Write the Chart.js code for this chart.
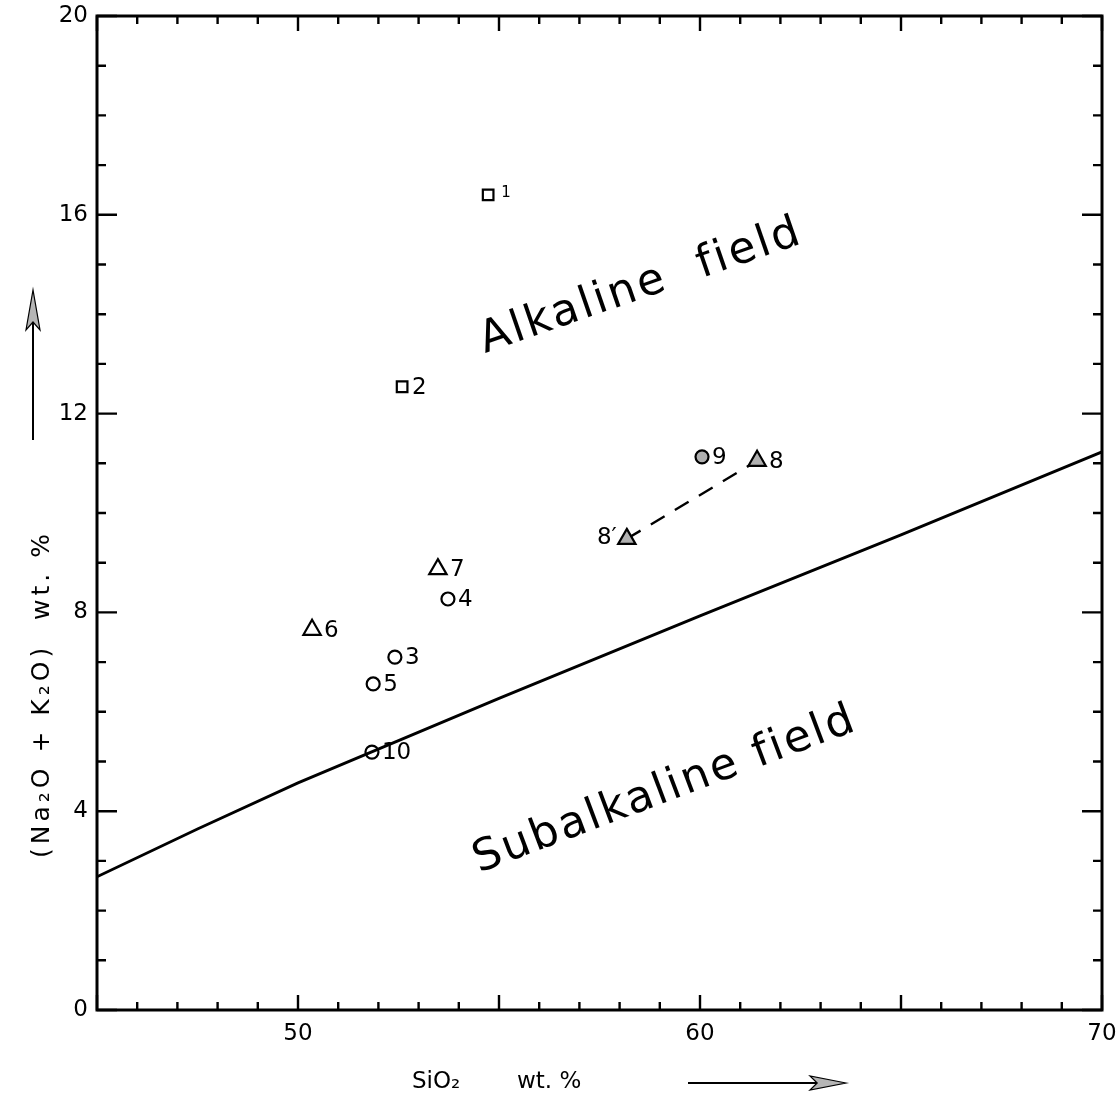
<!DOCTYPE html>
<html>
<head>
<meta charset="utf-8">
<script src="https://cdn.jsdelivr.net/npm/chart.js@4/dist/chart.umd.min.js"></script>
<style>
  body { margin: 0; background: #fff; }
  #wrap { width: 1120px; height: 1102px; }
</style>
</head>
<body>
<div id="wrap"><canvas id="myChart" width="1120" height="1102"></canvas></div>
<script>
// samples
const sampleLabels = ['1', '2', '3', '4', '5', '6', '7', '8', '8′', '9', '10'];
const silica  = [54.73, 52.59, 52.41, 53.73, 51.87, 50.35, 53.48, 61.42, 58.18, 60.05, 51.84];
const alkalis = [16.40, 12.54, 7.10, 8.27, 6.56, 7.65, 8.87, 11.05, 9.48, 11.13, 5.19];
const symbols = ['square', 'square', 'circle', 'circle', 'circle', 'triangle', 'triangle',
                 'triangleFilled', 'triangleFilled', 'circleFilled', 'circle'];

// alkaline / subalkaline boundary
const boundarySiO2 = [45, 47.5, 50, 55, 60, 65, 70];
const boundaryAlk  = [2.68, 3.64, 4.57, 6.27, 7.93, 9.56, 11.23];

// tie line 8' -> 8
const tieSiO2 = [58.18, 61.42];
const tieAlk  = [9.48, 11.05];

const xTickLabels = [50, 60, 70];
const yTickLabels = [0, 4, 8, 12, 16, 20];

const FONT = '"DejaVu Sans", "Liberation Sans", sans-serif';

const symbolStyle = {
  square:         { pointStyle: 'rect',     radius: 7.5, fill: 'rgba(0,0,0,0)' },
  circle:         { pointStyle: 'circle',   radius: 6.5, fill: 'rgba(0,0,0,0)' },
  triangle:       { pointStyle: 'triangle', radius: 10,  fill: 'rgba(0,0,0,0)' },
  triangleFilled: { pointStyle: 'triangle', radius: 10,  fill: '#b0b0b0' },
  circleFilled:   { pointStyle: 'circle',   radius: 6.5, fill: '#b0b0b0' }
};

const markerSets = Object.keys(symbolStyle).map(key => {
  const st = symbolStyle[key];
  const pts = [];
  symbols.forEach((s, i) => { if (s === key) pts.push({ x: silica[i], y: alkalis[i] }); });
  return {
    label: key,
    data: pts,
    pointStyle: st.pointStyle,
    pointRadius: st.radius,
    pointBackgroundColor: st.fill,
    pointBorderColor: '#000',
    pointBorderWidth: 2.2,
    showLine: false,
    order: 1
  };
});

const data = {
  datasets: markerSets.concat([
    {
      label: 'tie',
      data: tieSiO2.map((x, i) => ({ x: x, y: tieAlk[i] })),
      showLine: true,
      borderColor: '#000',
      borderWidth: 2.4,
      borderDash: [16, 12],
      pointRadius: 0,
      order: 2
    },
    {
      label: 'boundary',
      data: boundarySiO2.map((x, i) => ({ x: x, y: boundaryAlk[i] })),
      showLine: true,
      borderColor: '#000',
      borderWidth: 2.8,
      pointRadius: 0,
      order: 2
    }
  ])
};

// draws text stretched to a given width (letter spacing), from a start point along an angle
function spreadText(ctx, text, x, y, angle, width, maxSp) {
  ctx.save();
  ctx.translate(x, y);
  ctx.rotate(angle);
  ctx.letterSpacing = '0px';
  const w = ctx.measureText(text).width;
  const n = [...text].length;
  let sp = n > 1 ? (width - w) / (n - 1) : 0;
  if (maxSp !== undefined && sp > maxSp) sp = maxSp;
  ctx.letterSpacing = sp + 'px';
  ctx.textAlign = 'left';
  ctx.fillText(text, 0, 0);
  ctx.restore();
}

function arrowHead(ctx, tipX, tipY, dir, len, half) {
  // dir: 'right' or 'up'
  ctx.beginPath();
  if (dir === 'right') {
    ctx.moveTo(tipX, tipY);
    ctx.lineTo(tipX - len, tipY - half);
    ctx.lineTo(tipX - len * 0.8, tipY);
    ctx.lineTo(tipX - len, tipY + half);
  } else {
    ctx.moveTo(tipX, tipY);
    ctx.lineTo(tipX - half, tipY + len);
    ctx.lineTo(tipX, tipY + len * 0.8);
    ctx.lineTo(tipX + half, tipY + len);
  }
  ctx.closePath();
  ctx.fillStyle = '#b5b5b5';
  ctx.fill();
  ctx.lineWidth = 1.2;
  ctx.strokeStyle = '#000';
  ctx.stroke();
}

const framePlugin = {
  id: 'frame',
  afterDatasetsDraw(chart) {
    const ctx = chart.ctx;
    const a = chart.chartArea;
    const xs = chart.scales.x, ys = chart.scales.y;
    ctx.save();
    ctx.strokeStyle = '#000';

    // inward ticks on all four sides
    ctx.lineWidth = 2.4;
    xs.ticks.forEach(t => {
      const px = xs.getPixelForValue(t.value);
      const len = t.value % 5 === 0 ? 15 : 8;
      ctx.beginPath();
      ctx.moveTo(px, a.bottom); ctx.lineTo(px, a.bottom - len);
      ctx.moveTo(px, a.top); ctx.lineTo(px, a.top + len);
      ctx.stroke();
    });
    ys.ticks.forEach(t => {
      const py = ys.getPixelForValue(t.value);
      const len = yTickLabels.includes(t.value) ? 20 : 9;
      ctx.beginPath();
      ctx.moveTo(a.left, py); ctx.lineTo(a.left + len, py);
      ctx.moveTo(a.right, py); ctx.lineTo(a.right - len, py);
      ctx.stroke();
    });

    ctx.lineWidth = 3;
    ctx.strokeRect(a.left, a.top, a.right - a.left, a.bottom - a.top);

    // sample numbers
    ctx.fillStyle = '#000';
    ctx.textBaseline = 'middle';
    sampleLabels.forEach((lab, i) => {
      const px = xs.getPixelForValue(silica[i]);
      const py = ys.getPixelForValue(alkalis[i]);
      if (lab === '1') {
        ctx.font = '15px ' + FONT;
        ctx.textAlign = 'left';
        ctx.fillText(lab, px + 13, py - 2);
      } else if (lab === '8′') {
        ctx.font = '23px ' + FONT;
        ctx.textAlign = 'right';
        ctx.fillText(lab, px - 10, py - 1);
      } else {
        ctx.font = '23px ' + FONT;
        ctx.textAlign = 'left';
        const off = symbols[i].startsWith('triangle') ? 12 : 10;
        ctx.fillText(lab, px + off, py + 1);
      }
    });

    // field names
    ctx.textBaseline = 'alphabetic';
    ctx.font = '44px ' + FONT;
    spreadText(ctx, 'Alkaline  field', xs.getPixelForValue(54.65), ys.getPixelForValue(13.22), -19.1 * Math.PI / 180, 336);
    spreadText(ctx, 'Subalkaline field', xs.getPixelForValue(54.5), ys.getPixelForValue(2.76), -20.7 * Math.PI / 180, 404);

    // axis titles with arrows
    ctx.font = '23px ' + FONT;
    ctx.textBaseline = 'middle';
    ctx.textAlign = 'left';
    ctx.fillText('SiO₂', 412, 1082);
    ctx.fillText('wt. %', 517, 1082);
    ctx.lineWidth = 2;
    ctx.beginPath(); ctx.moveTo(688, 1083); ctx.lineTo(818, 1083); ctx.stroke();
    arrowHead(ctx, 846, 1083, 'right', 36, 7);

    ctx.fillStyle = '#000';
    ctx.font = '25px ' + FONT;
    spreadText(ctx, '(Na₂O + K₂O)  wt. %', 42, 858, -Math.PI / 2, 340, 4);
    ctx.lineWidth = 2;
    ctx.beginPath(); ctx.moveTo(33, 440); ctx.lineTo(33, 320); ctx.stroke();
    arrowHead(ctx, 33, 290, 'up', 40, 7);

    ctx.restore();
  }
};

const config = {
  type: 'scatter',
  data,
  options: {
    responsive: false,
    animation: false,
    layout: { padding: { top: 16, right: 18, left: 0, bottom: 0 } },
    plugins: { legend: { display: false }, tooltip: { enabled: false } },
    scales: {
      x: {
        type: 'linear',
        min: 45, max: 70,
        border: { display: false },
        grid: { display: false, drawTicks: false },
        ticks: {
          stepSize: 1, autoSkip: false, maxRotation: 0, padding: 10,
          color: '#000', font: { family: FONT, size: 23 },
          callback: v => xTickLabels.includes(v) ? String(v) : ''
        },
        afterFit: s => { s.height = 92; s.paddingLeft = 0; s.paddingRight = 0; }
      },
      y: {
        type: 'linear',
        min: 0, max: 20,
        border: { display: false },
        grid: { display: false, drawTicks: false },
        ticks: {
          stepSize: 1, autoSkip: false, padding: 9,
          color: '#000', font: { family: FONT, size: 23 },
          callback: v => yTickLabels.includes(v) ? String(v) : ''
        },
        afterFit: s => { s.width = 97; s.paddingTop = 0; s.paddingBottom = 0; }
      }
    }
  },
  plugins: [framePlugin]
};

const myChart = new Chart(document.getElementById('myChart'), config);
</script>
</body>
</html>
